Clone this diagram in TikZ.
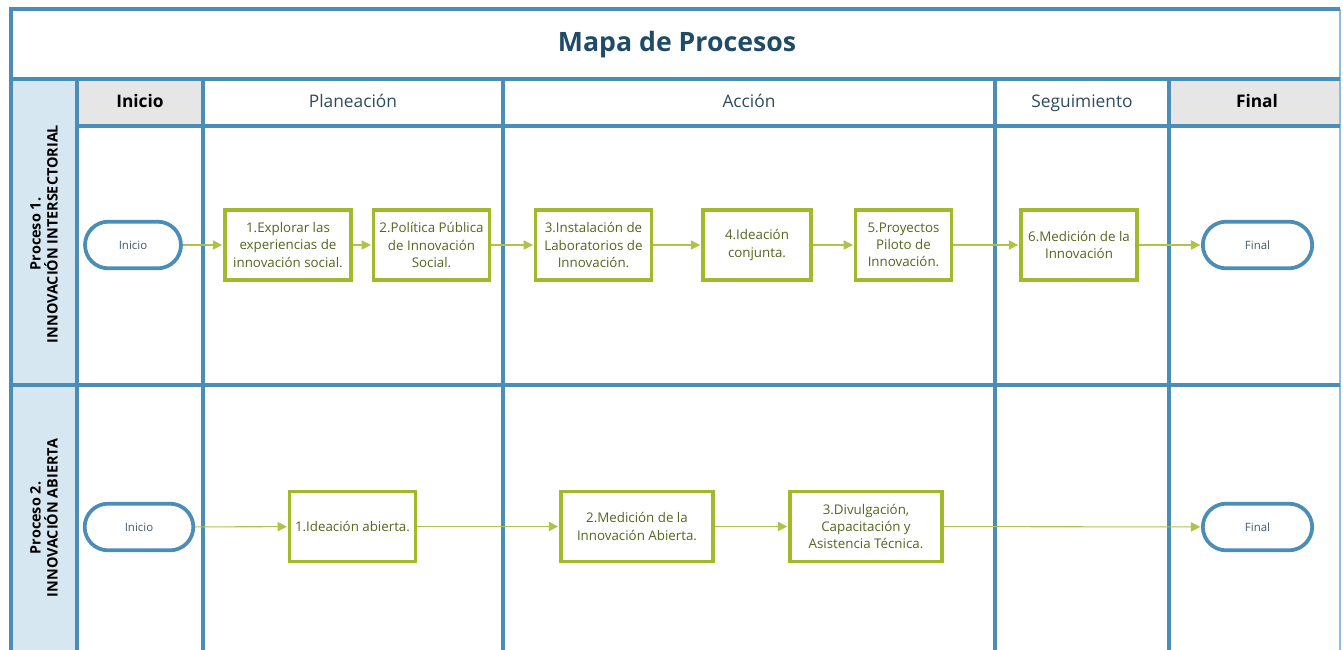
\documentclass[tikz,border=0pt]{standalone}
\usepackage{fontspec}
\setmainfont{Open Sans}
\usetikzlibrary{arrows.meta}
\definecolor{framec}{HTML}{4A8DB7}
\definecolor{lanec}{HTML}{D7E7F1}
\definecolor{headc}{HTML}{E6E6E6}
\definecolor{boxc}{HTML}{A3B82A}
\definecolor{linec}{HTML}{AFC24A}
\definecolor{boxtext}{HTML}{55651F}
\definecolor{termtext}{HTML}{44596A}
\definecolor{titlec}{HTML}{1F4B66}
\definecolor{headtext}{HTML}{2F4B5E}
\begin{document}
\begin{tikzpicture}[x=0.75pt,y=-0.75pt,
  gridline/.style={draw=framec,line width=2.8pt},
  stepbox/.style={draw=boxc,line width=2.8pt,fill=white,align=center,text=boxtext,font=\fontsize{10}{12.8}\selectfont,inner sep=1pt},
  term/.style={draw=framec,line width=2.8pt,fill=white,rounded corners=17.5pt,minimum height=35pt,text=termtext,font=\fontsize{8.6}{10}\selectfont},
  flow/.style={draw=linec,line width=0.8pt,-{Triangle[length=7pt,width=7pt]},shorten >=0.5pt},
  headlbl/.style={font=\fontsize{13}{15}\selectfont,text=headtext,text height=9.5pt,text depth=3pt},
  headbold/.style={font=\fontsize{13}{15}\selectfont\bfseries,text=black,text height=9.5pt,text depth=3pt},
  lanelbl/.style={rotate=90,align=center,font=\fontsize{10.8}{12.8}\selectfont\bfseries,text=black}]
\useasboundingbox (0,0) rectangle (1343,650);
% fills
\fill[lanec] (11,79) rectangle (77,650);
\fill[headc] (77,79) rectangle (203,126);
\fill[headc] (1169,79) rectangle (1340,126);
% grid
\draw[framec!60,line width=1pt] (1340,9) -- (1340,650);
\draw[gridline] (11,650) -- (11,9) -- (1340,9);
\draw[gridline] (11,79) -- (1340,79);
\draw[gridline] (77,126) -- (1340,126);
\draw[gridline] (11,385) -- (1340,385);
\foreach \xx in {77,203,503,995,1169} \draw[gridline] (\xx,79) -- (\xx,650);
% title and headers
\node[font=\fontsize{20}{24}\selectfont\bfseries,text=titlec] (title) at (677,45) {Mapa de Procesos};
\node[headbold] (hInicio) at (140,103.5) {Inicio};
\node[headlbl] (hPlan) at (353,103.5) {Planeación};
\node[headlbl] (hAccion) at (749,103.5) {Acción};
\node[headlbl] (hSeg) at (1082,103.5) {Seguimiento};
\node[headbold] (hFinal) at (1257,103.5) {Final};
% lane labels
\node[lanelbl] (lane1) at (44,234) {Proceso 1.\\INNOVACIÓN INTERSECTORIAL};
\node[lanelbl] (lane2) at (44,518) {Proceso 2.\\INNOVACIÓN ABIERTA};
% lane 1
\node[term,minimum width=72pt] (ini1) at (133,245) {Inicio};
\node[stepbox,minimum width=95pt,minimum height=53pt] (b1) at (288,245) {1.Explorar las\\experiencias de\\innovación social.};
\node[stepbox,minimum width=87pt,minimum height=53pt] (b2) at (431.5,245) {2.Política Pública\\de Innovación\\Social.};
\node[stepbox,minimum width=87pt,minimum height=53pt] (b3) at (593.5,245) {3.Instalación de\\Laboratorios de\\Innovación.};
\node[stepbox,minimum width=81.5pt,minimum height=53pt] (b4) at (757,245) {4.Ideación\\conjunta.};
\node[stepbox,minimum width=72pt,minimum height=53pt] (b5) at (903.5,245) {5.Proyectos\\Piloto de\\Innovación.};
\node[stepbox,minimum width=87.5pt,minimum height=53pt] (b6) at (1079,245) {6.Medición de la\\Innovación};
\node[term,minimum width=82pt] (fin1) at (1257.5,245) {Final};
\draw[flow] (ini1) -- (b1);
\draw[flow] (b1) -- (b2);
\draw[flow] (b2) -- (b3);
\draw[flow] (b3) -- (b4);
\draw[flow] (b4) -- (b5);
\draw[flow] (b5) -- (b6);
\draw[flow] (b6) -- (fin1);
% lane 2
\node[term,minimum width=81.5pt] (ini2) at (139,527) {Inicio};
\node[stepbox,minimum width=94.5pt,minimum height=52.5pt] (c1) at (352.5,526.5) {1.Ideación abierta.};
\node[stepbox,minimum width=114.5pt,minimum height=52.5pt] (c2) at (637,526.5) {2.Medición de la\\Innovación Abierta.};
\node[stepbox,minimum width=114.5pt,minimum height=52.5pt] (c3) at (866,526.5) {3.Divulgación,\\Capacitación y\\Asistencia Técnica.};
\node[term,minimum width=82pt] (fin2) at (1257.5,527) {Final};
\draw[flow] (ini2) -- (c1);
\draw[flow] (c1) -- (c2);
\draw[flow] (c2) -- (c3);
\draw[flow] (c3) -- (fin2);
\end{tikzpicture}
\end{document}
